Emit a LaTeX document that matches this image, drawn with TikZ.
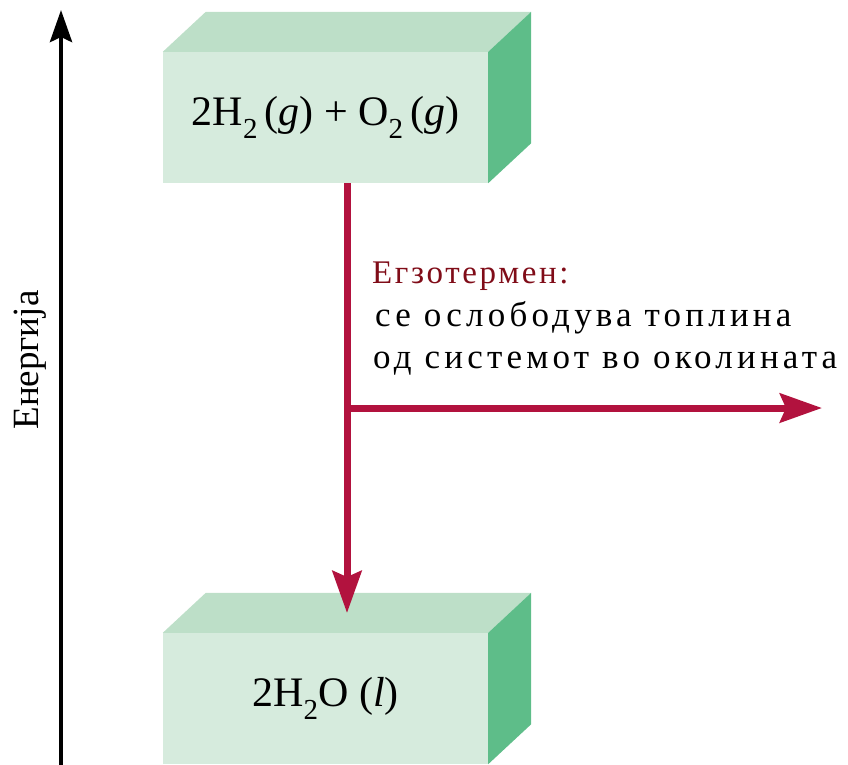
\documentclass[tikz,border=0pt]{standalone}
\usepackage{fontspec}
\setmainfont{Liberation Serif}
\newfontfamily\widefont[LetterSpace=8]{Liberation Serif}
\newfontfamily\widerfont[LetterSpace=12]{Liberation Serif}
\usetikzlibrary{arrows.meta}
\definecolor{frontc}{RGB}{214,235,221}
\definecolor{topc}{RGB}{189,223,200}
\definecolor{sidec}{RGB}{94,189,137}
\definecolor{arrowred}{RGB}{178,18,62}
\definecolor{textred}{RGB}{128,12,24}
\newcommand\chsub[1]{\raisebox{-0.3em}{\fontsize{29}{29}\selectfont #1}}
\begin{document}
\begin{tikzpicture}[x=1pt,y=-1pt,
  front/.style={fill=frontc, draw=none, inner sep=0pt, minimum width=325pt, minimum height=131pt, font=\fontsize{42}{48}\selectfont},
  topface/.style={fill=topc},
  sideface/.style={fill=sidec},
  axisline/.style={line width=4.5pt, -{Stealth[length=32pt,width=22pt,inset=5pt]}},
  redarrow/.style={draw=arrowred, line width=7pt, -{Stealth[length=42pt,width=29pt,inset=6pt]}},
  txt/.style={anchor=base west, inner sep=0pt, font=\fontsize{35}{40}\widerfont},
  headtxt/.style={anchor=base west, inner sep=0pt, text=textred, font=\fontsize{33}{40}\widefont}]
\useasboundingbox (0,0) rectangle (848,764);
\clip (0,0) rectangle (848,764);
% energy axis
\coordinate (axb) at (61,770);
\coordinate (axt) at (61,10);
\draw[axisline] (axb) -- (axt);
\node[rotate=90, font=\fontsize{37}{40}\selectfont] (elabel) at (30,360) {Енергија};
% reactants box
\node[front] (react) at (325.5,117.5) {2H\chsub{2}\,(\textit{g}) + O\chsub{2}\,(\textit{g})};
\fill[topface] (react.north west) -- ++(43,-40) -- ([shift={(43,-40)}]react.north east) -- (react.north east) -- cycle;
\fill[sideface] (react.north east) -- ++(43,-40) -- ([shift={(43,-40)}]react.south east) -- (react.south east) -- cycle;
% product box
\node[front] (prod) at (325.5,698.5) {2H\chsub{2}O (\textit{l})};
\fill[topface] (prod.north west) -- ++(43,-40) -- ([shift={(43,-40)}]prod.north east) -- (prod.north east) -- cycle;
\fill[sideface] (prod.north east) -- ++(43,-40) -- ([shift={(43,-40)}]prod.south east) -- (prod.south east) -- cycle;
% red arrows
\coordinate (src) at (347,183);
\coordinate (tgt) at (347,613);
\coordinate (junc) at (347,408);
\coordinate (outp) at (822,408);
\draw[redarrow] (src) -- (tgt);
\draw[redarrow] (junc) -- (outp);
% labels
\node[headtxt] (l1) at (372,283) {Егзотермен:};
\node[txt] (l2) at (375,326) {се ослободува топлина};
\node[txt] (l3) at (373,368) {од системот во околината};
\end{tikzpicture}
\end{document}
